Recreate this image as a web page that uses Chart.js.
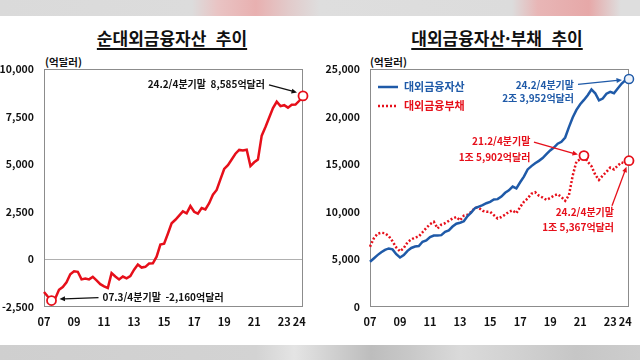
<!DOCTYPE html>
<html lang="ko">
<head>
<meta charset="utf-8">
<script src="https://cdn.jsdelivr.net/npm/chart.js@4.4.1/dist/chart.umd.min.js"></script>
<style>
    html, body { margin: 0; padding: 0; }
    body {
        width: 640px; height: 360px; position: relative; overflow: hidden;
        background: #fff; font-family: "Noto Sans CJK KR", sans-serif; color: #111;
    }
    .strip-top {
        position: absolute; left: 0; top: 0; width: 640px; height: 16px;
        background: linear-gradient(90deg, #dadada 0%, #dcdcdc 30%, #e9c4c4 34%, #e8b0b0 40%, #e2caca 45%, #dedede 50%, #dcdcdc 80%, #e8b6b6 84%, #e6a8a8 92%, #dedede 97%);
    }
    .strip-bottom {
        position: absolute; left: 0; top: 345px; width: 640px; height: 15px;
        background: linear-gradient(90deg, #cfcfcf 0%, #d3d3d3 40%, #e4e4e4 46%, #d0d0d0 52%, #bdbdbd 58%, #c8c8c8 64%, #dadada 72%, #d2d2d2 80%, #c6c6c6 90%, #cdcdcd 100%);
    }
    .title {
        position: absolute; top: 28px; line-height: 20px; font-size: 17px; font-weight: bold;
        text-align: center; text-decoration: underline; text-decoration-thickness: 1.5px; text-underline-offset: 3px;
    }
    .unit { position: absolute; top: 55px; line-height: 14px; font-size: 10.5px; font-weight: bold; }
    canvas { position: absolute; }
</style>
</head>
<body>
<div class="strip-top"></div>
<div class="strip-bottom"></div>
<div class="title" style="left:0;width:344px;">순대외금융자산&nbsp; 추이</div>
<div class="title" style="left:320px;width:354px;">대외금융자산·부채&nbsp; 추이</div>
<div class="unit" style="left:45px;">(억달러)</div>
<div class="unit" style="left:370px;">(억달러)</div>
<div style="position:absolute;left:0;top:50px;width:320px;height:290px;"><canvas id="chartNet"></canvas></div>
<div style="position:absolute;left:320px;top:50px;width:320px;height:290px;"><canvas id="chartGross"></canvas></div>
<script>
// quarters 2007.1/4 ~ 2024.2/4
const years = ["07", "08", "09", "10", "11", "12", "13", "14", "15", "16", "17", "18", "19", "20", "21", "22", "23", "24"];
const shownYears = ["07", "09", "11", "13", "15", "17", "19", "21", "23", "24"];
const quarterLabels = [];
years.forEach(y => {
    for (let q = 1; q <= 4; q++) {
        if (y === "24" && q > 2) break;
        quarterLabels.push(y + "." + q + "/4");
    }
});

// 억달러
const netAssets = [
    -1712, -1950, -2160, -2050,
    -1600, -1450, -1200, -780,
    -620, -650, -1050, -1000,
    -1050, -920, -1100, -1300,
    -1420, -1500, -720, -900,
    -1050, -900, -1000, -880,
    -540, -270, -430, -390,
    -220, -210, 140, 780,
    830, 1350, 1900, 2080,
    2300, 2520, 2420, 2800,
    2500, 2400, 2700, 2620,
    2950, 3400, 3650, 4200,
    4750, 4950, 5250, 5550,
    5750, 5720, 5760, 4900,
    5100, 5250, 6500, 6950,
    7450, 7950, 8280, 8050,
    8100, 7970, 8120, 8130,
    8330, 8585
];
const extAssets = [
    4750, 5100, 5450, 5750,
    6000, 6150, 6050, 5550,
    5200, 5450, 5900, 6200,
    6350, 6400, 6850, 7000,
    7350, 7500, 7520, 7550,
    7900, 8050, 8450, 8750,
    8850, 9000, 9550, 9950,
    10400, 10550, 10700, 10900,
    11050, 11300, 11330, 11600,
    12000, 12250, 12650, 12450,
    13100, 13700, 14450, 14800,
    15100, 15350, 15650, 16050,
    16450, 16750, 17150, 17350,
    17800, 18900, 19900, 20700,
    21300, 21750, 22250, 22850,
    22450, 21700, 21900, 22400,
    22600, 22450, 22950, 23450,
    23800, 23952
];
const extLiabilities = [
    6335, 7200, 7700, 7800,
    7750, 7450, 6900, 6250,
    5850, 6200, 6800, 7100,
    7300, 7400, 7850, 8300,
    8700, 8950, 8250, 8650,
    8800, 9050, 9300, 9450,
    9100, 9600, 9700, 10000,
    10450, 10400, 10100, 10000,
    10000, 9650, 9300, 9450,
    9700, 10000, 10150, 9850,
    10500, 11050, 11400, 11900,
    12050, 11700, 11500, 11250,
    11450, 11700, 11850, 11550,
    11150, 11750, 13800, 15300,
    15500, 15902, 15250, 14800,
    13900, 13350, 13800, 14200,
    14650, 14450, 14850, 15200,
    15050, 15367
];

const netTicks = [-2500, 0, 2500, 5000, 7500, 10000];
const grossTicks = [0, 5000, 10000, 15000, 20000, 25000];

const RED = "#e60f1a";
const BLUE = "#1f5aa8";
const FONT = "\"Noto Sans CJK KR\", sans-serif";

function markerRadius(idxs, n) {
    const r = [];
    for (let i = 0; i < n; i++) r.push(idxs.includes(i) ? 4.5 : 0);
    return r;
}

function yearTick(value) {
    const label = quarterLabels[value];
    const y = label.slice(0, 2);
    return label.indexOf(".1/4") === 2 && shownYears.includes(y) ? y : "";
}

function drawArrow(ctx, x1, y1, x2, y2, color) {
    const ang = Math.atan2(y2 - y1, x2 - x1);
    const head = 6;
    ctx.save();
    ctx.strokeStyle = color;
    ctx.fillStyle = color;
    ctx.lineWidth = 1.3;
    ctx.beginPath();
    ctx.moveTo(x1, y1);
    ctx.lineTo(x2 - Math.cos(ang) * head * 0.8, y2 - Math.sin(ang) * head * 0.8);
    ctx.stroke();
    ctx.beginPath();
    ctx.moveTo(x2, y2);
    ctx.lineTo(x2 - head * Math.cos(ang - 0.42), y2 - head * Math.sin(ang - 0.42));
    ctx.lineTo(x2 - head * Math.cos(ang + 0.42), y2 - head * Math.sin(ang + 0.42));
    ctx.closePath();
    ctx.fill();
    ctx.restore();
}

function drawText(ctx, text, x, y, color, align) {
    ctx.save();
    ctx.font = "bold 10px " + FONT;
    ctx.fillStyle = color;
    ctx.textAlign = align;
    ctx.textBaseline = "middle";
    ctx.fillText(text, x, y);
    ctx.restore();
}

const framePlugin = {
    id: "frame",
    beforeDatasetsDraw(chart) {
        const a = chart.chartArea;
        const ctx = chart.ctx;
        ctx.save();
        ctx.strokeStyle = "#8c8c8c";
        ctx.lineWidth = 1;
        ctx.strokeRect(a.left + 0.5, a.top + 0.5, a.right - a.left - 1, a.bottom - a.top - 1);
        ctx.restore();
    }
};

const netNotes = {
    id: "netNotes",
    afterDatasetsDraw(chart) {
        const ctx = chart.ctx;
        const pts = chart.getDatasetMeta(0).data;
        const last = pts[pts.length - 1];
        const low = pts[2];
        drawText(ctx, "24.2/4분기말  8,585억달러", last.x - 38, last.y - 12, "#111", "right");
        drawArrow(ctx, last.x - 34, last.y - 11, last.x - 6, last.y - 3.5, "#111");
        drawText(ctx, "07.3/4분기말  -2,160억달러", low.x + 51, low.y - 3.5, "#111", "left");
        drawArrow(ctx, low.x + 47, low.y - 3, low.x + 8, low.y - 1.5, "#111");
    }
};

const grossNotes = {
    id: "grossNotes",
    afterDatasetsDraw(chart) {
        const ctx = chart.ctx;
        const a = chart.chartArea;
        // legend
        ctx.save();
        ctx.lineWidth = 2.5;
        ctx.strokeStyle = BLUE;
        ctx.beginPath();
        ctx.moveTo(a.left + 8, a.top + 18);
        ctx.lineTo(a.left + 28, a.top + 18);
        ctx.stroke();
        ctx.strokeStyle = RED;
        ctx.setLineDash([2, 2]);
        ctx.beginPath();
        ctx.moveTo(a.left + 8, a.top + 37);
        ctx.lineTo(a.left + 28, a.top + 37);
        ctx.stroke();
        ctx.setLineDash([]);
        ctx.font = "bold 11px " + FONT;
        ctx.textBaseline = "middle";
        ctx.fillStyle = BLUE;
        ctx.fillText("대외금융자산", a.left + 34, a.top + 18);
        ctx.fillStyle = RED;
        ctx.fillText("대외금융부채", a.left + 34, a.top + 37);
        ctx.restore();

        const assetPts = chart.getDatasetMeta(0).data;
        const liabPts = chart.getDatasetMeta(1).data;
        const a24 = assetPts[assetPts.length - 1];
        const l21 = liabPts[57];
        const l24 = liabPts[liabPts.length - 1];

        drawText(ctx, "24.2/4분기말", a24.x - 55, a24.y + 6, BLUE, "right");
        drawText(ctx, "2조 3,952억달러", a24.x - 55, a24.y + 19, BLUE, "right");
        drawArrow(ctx, a24.x - 51, a24.y + 5.5, a24.x - 7, a24.y + 1, BLUE);

        drawText(ctx, "21.2/4분기말", l21.x - 53.5, l21.y - 14, RED, "right");
        drawText(ctx, "1조 5,902억달러", l21.x - 53.5, l21.y + 2, RED, "right");
        drawArrow(ctx, l21.x - 50, l21.y - 13.5, l21.x - 6, l21.y - 1, RED);

        drawText(ctx, "24.2/4분기말", l24.x - 15, l24.y + 51.5, RED, "right");
        drawText(ctx, "1조 5,367억달러", l24.x - 15, l24.y + 66.5, RED, "right");
        drawArrow(ctx, l24.x - 17, l24.y + 45, l24.x - 2.5, l24.y + 6, RED);
    }
};

function xAxis() {
    return {
        type: "category",
        offset: false,
        afterFit: scale => { scale.height = 33; },
        grid: { display: false, drawTicks: false },
        border: { display: false },
        ticks: {
            autoSkip: false,
            maxRotation: 0,
            padding: 8,
            color: "#111",
            font: { family: FONT, size: 11, weight: "bold" },
            callback: value => yearTick(value)
        }
    };
}

function yAxis(tickValues, width, zeroLine) {
    return {
        min: tickValues[0],
        max: tickValues[tickValues.length - 1],
        afterFit: scale => { scale.width = width; },
        afterBuildTicks: scale => { scale.ticks = tickValues.map(v => ({ value: v })); },
        border: { display: false },
        grid: {
            drawTicks: false,
            color: ctx => (zeroLine && ctx.tick && ctx.tick.value === 0 ? "#b0b0b0" : "transparent")
        },
        ticks: {
            padding: 10,
            color: "#111",
            font: { family: FONT, size: 10.5, weight: "bold" },
            callback: v => v.toLocaleString("en-US")
        }
    };
}

new Chart(document.getElementById("chartNet"), {
    type: "line",
    data: {
        labels: quarterLabels,
        datasets: [{
            data: netAssets,
            borderColor: RED,
            borderWidth: 2.5,
            tension: 0,
            clip: false,
            pointRadius: markerRadius([2, netAssets.length - 1], netAssets.length),
            pointBackgroundColor: "#fff",
            pointBorderColor: RED,
            pointBorderWidth: 1.8
        }]
    },
    options: {
        responsive: true,
        maintainAspectRatio: false,
        animation: false,
        layout: { padding: { top: 19, right: 17, left: 0, bottom: 0 } },
        plugins: { legend: { display: false }, tooltip: { enabled: false } },
        scales: {
            x: xAxis(),
            y: yAxis(netTicks, 44, true)
        }
    },
    plugins: [framePlugin, netNotes]
});

new Chart(document.getElementById("chartGross"), {
    type: "line",
    data: {
        labels: quarterLabels,
        datasets: [
            {
                label: "대외금융자산",
                data: extAssets,
                borderColor: BLUE,
                borderWidth: 2.5,
                tension: 0,
                clip: false,
                pointRadius: markerRadius([extAssets.length - 1], extAssets.length),
                pointBackgroundColor: "#eef3fa",
                pointBorderColor: BLUE,
                pointBorderWidth: 1.5
            },
            {
                label: "대외금융부채",
                data: extLiabilities,
                borderColor: RED,
                borderWidth: 2.5,
                borderDash: [2, 2],
                borderCapStyle: "butt",
                tension: 0,
                clip: false,
                pointRadius: markerRadius([57, extLiabilities.length - 1], extLiabilities.length),
                pointBackgroundColor: "#fff",
                pointBorderColor: RED,
                pointBorderWidth: 1.8
            }
        ]
    },
    options: {
        responsive: true,
        maintainAspectRatio: false,
        animation: false,
        layout: { padding: { top: 19, right: 11, left: 0, bottom: 0 } },
        plugins: { legend: { display: false }, tooltip: { enabled: false } },
        scales: {
            x: xAxis(),
            y: yAxis(grossTicks, 50, false)
        }
    },
    plugins: [framePlugin, grossNotes]
});
</script>
</body>
</html>
